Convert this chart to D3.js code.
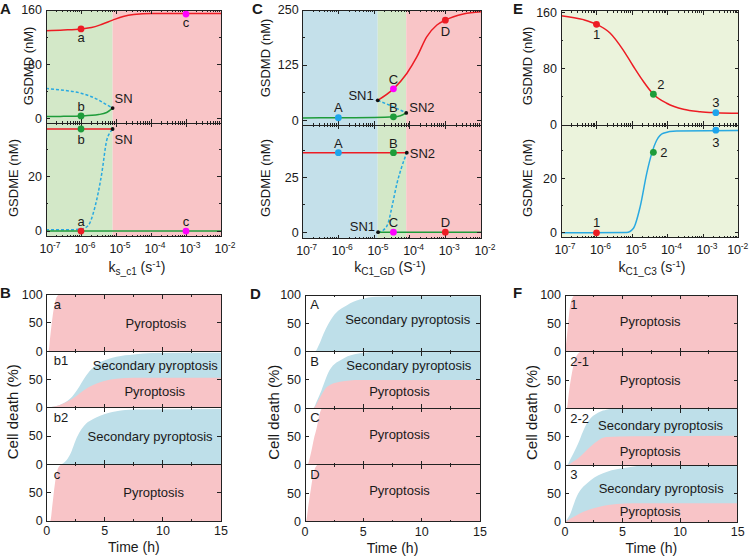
<!DOCTYPE html>
<html><head><meta charset="utf-8">
<script src="https://cdn.jsdelivr.net/npm/d3@7"></script>
<style>
body{margin:0;background:#fff}
svg{display:block}
text{font-family:Arial,"Liberation Sans",Helvetica,sans-serif;fill:#1a1a1a}
</style>
</head><body>
<svg id="c" width="750" height="556"></svg>
<script>
// ---------------- DATA ----------------
const logDecades = [-7, -6, -5, -4, -3, -2];
const timeTicks = [0, 5, 10, 15];
const timeMinor = [2.5, 7.5, 12.5];

// Panel A (x = k_s_c1)
const A_bounds = [1e-7, 8e-6, 1e-2];
const A_gsdmd_high = [[1e-7,129.5],[3.2e-7,130.5],[1e-6,132],[2e-6,134],[4e-6,139],[8e-6,145],[1.6e-5,150.5],[3.2e-5,153.5],[1e-4,155],[1e-3,155],[1e-2,155]];
const A_gsdmd_unst = [[1e-7,44],[2.5e-7,42],[1e-6,37],[3.2e-6,27],[5.4e-6,20],[8e-6,15]];
const A_gsdmd_low  = [[1e-7,2.5],[3.2e-7,2.8],[1e-6,3.4],[3.2e-6,5.5],[5.4e-6,8.5],[8e-6,15]];
const A_gsdme_high = [[1e-7,37.5],[8e-6,37.5]];
const A_gsdme_unst = [[1e-7,0.5],[5e-7,0.5],[1e-6,0.7],[1.6e-6,2],[2.5e-6,8.8],[3.9e-6,21],[5.4e-6,33.2],[7e-6,36.5],[8e-6,37.5]];
const A_gsdme_low  = [[1e-7,0],[1e-2,0]];
const A_pts_top = [["a",1e-6,132],["b",1e-6,3.4],["c",1e-3,154],["SN",8e-6,15]];
const A_pts_bot = [["b",1e-6,37.5],["a",1e-6,0],["c",1e-3,0],["SN",8e-6,37.5]];

// Panel C (x = k_C1_GD)
const C_bounds = [1e-7, 1.27e-5, 8e-5, 1e-2];
const C_gsdmd_low  = [[1e-7,5],[1e-6,5.5],[1e-5,6],[3.5e-5,7.5],[5.5e-5,10],[8e-5,16.5]];
const C_gsdmd_unst = [[1.27e-5,45],[2.9e-5,33],[8e-5,16.5]];
const C_gsdmd_high = [[1.27e-5,45],[3.5e-5,71],[8.3e-5,106],[1.6e-4,144],[3e-4,189],[5.8e-4,216],[1e-3,227],[3.2e-3,241],[1e-2,246]];
const C_gsdme_high = [[1e-7,36.5],[8.3e-5,36.5]];
const C_gsdme_unst = [[1.3e-5,0],[1.8e-5,0.9],[2.5e-5,4.3],[3.2e-5,11.8],[4.4e-5,22.4],[6e-5,30],[8.3e-5,36.5]];
const C_gsdme_low  = [[1.3e-5,0],[1e-2,0]];
const C_pts_top = [["A",1e-6,5.5],["B",3.5e-5,7.5],["C",3.5e-5,71],["D",1e-3,227],["SN1",1.27e-5,45],["SN2",8e-5,16.5]];
const C_pts_bot = [["A",1e-6,36.5],["B",3.5e-5,36.5],["C",3.5e-5,0],["D",1e-3,0],["SN1",1.3e-5,0],["SN2",8.3e-5,36.5]];

// Panel E (x = k_C1_C3)
const E_gsdmd = [[1e-7,155.7],[4.3e-7,150],[1e-6,143.3],[2.4e-6,131],[5.6e-6,107],[1.1e-5,83.3],[2.1e-5,61.9],[4e-5,43.8],[9.5e-5,31],[2.8e-4,22.4],[8.3e-4,19],[2.3e-3,17.6],[1e-2,16.7]];
const E_gsdme = [[1e-7,0],[7e-6,0.1],[1.1e-5,1.7],[1.7e-5,9.6],[2.6e-5,21.8],[3.6e-5,29.1],[5e-5,34],[7.6e-5,36.5],[1.8e-4,37.3],[1e-2,37.5]];
const E_pts_top = [["1",1e-6,143.3],["2",4e-5,43.8],["3",2.3e-3,17.6]];
const E_pts_bot = [["1",1e-6,0],["2",4e-5,29.5],["3",2.3e-3,37.6]];

// Cell death (time h, %)
const B_rows = ["a","b1","b2","c"];
const B_pyro = [
  [[0,0],[0.15,0],[0.3,25],[0.5,60],[0.7,85],[0.9,97],[1.1,100],[15,100]],
  [[0,0],[0.3,1],[1,4],[1.7,10],[2.5,20],[3.2,31],[4,40],[4.6,45],[5.3,49],[6,51],[7.5,53],[15,53]],
  null,
  [[0,0],[0.3,0],[0.5,30],[0.7,65],[0.9,88],[1.1,97],[1.3,100],[15,100]]
];
const B_total = [
  null,
  [[0,0],[0.3,1],[1,4],[1.7,11],[2.2,20],[2.6,31],[3.4,57],[4,71],[4.6,80],[5.3,86],[6,90],[7.5,94],[9,96.5],[15,97]],
  [[0,0],[1.2,0],[1.6,5],[2,17],[2.6,48],[3.4,72],[4,80],[4.6,86],[6,94],[7.5,97],[15,98]],
  null
];
const D_rows = ["A","B","C","D"];
const D_pyro = [
  null,
  [[0,0],[0.7,0],[1.2,16],[1.9,38],[3,47],[4.7,50],[15,50]],
  [[0,0],[0.25,2],[0.5,20],[0.75,45],[1,65],[1.25,90],[1.5,100],[15,100]],
  [[0,0],[0.1,2],[0.3,30],[0.5,57],[0.7,82],[0.9,96],[1.1,100],[15,100]]
];
const D_total = [
  [[0,0],[0.85,0],[1.2,12],[1.6,32],[2.4,62],[3.6,82],[4.7,92],[6.1,97],[8,98],[15,98]],
  [[0,0],[0.7,0],[1,12],[1.4,31],[2.1,67],[3.3,88],[4.7,97],[6.1,100],[15,100]],
  null, null
];
const F_rows = ["1","2-1","2-2","3"];
const F_pyro = [
  [[0,0],[0.1,15],[0.25,45],[0.4,75],[0.55,90],[0.7,97],[0.9,100],[15,100]],
  [[0,0],[0.15,0],[0.35,30],[0.6,62],[0.85,85],[1.15,97],[1.4,100],[15,100]],
  [[0,0],[0.15,0],[0.7,6],[1.3,15],[1.9,27],[2.5,38],[3.6,50],[5.9,51],[15,52]],
  [[0,0],[0.5,6],[1.6,18],[3,27],[4.5,31.5],[5.9,33],[15,33]]
];
const F_total = [
  null, null,
  [[0,0],[0.15,0],[0.5,12],[1,32],[1.9,74],[3,94],[3.6,98],[4.5,100],[15,100]],
  [[0,0],[0.4,12],[1,44],[2.2,73],[3.6,88],[5.4,96],[7.1,100],[15,100]]
];
// annotation anchors [text, t, %]
const B_notes = [[["Pyroptosis",9.4,41]],[["Secondary pyroptosis",9.35,67],["Pyroptosis",9.3,21]],[["Secondary pyroptosis",8.9,42]],[["Pyroptosis",9.2,42]]];
const D_notes = [[["Secondary pyroptosis",8.8,49]],[["Secondary pyroptosis",8.9,67],["Pyroptosis",8.1,21.5]],[["Pyroptosis",8.1,45]],[["Pyroptosis",8.1,46]]];
const F_notes = [[["Pyroptosis",7.4,45]],[["Pyroptosis",7.4,42]],[["Secondary pyroptosis",8.3,61.5],["Pyroptosis",7.4,15.5]],[["Secondary pyroptosis",8.35,51.5],["Pyroptosis",7.4,11]]];

// ---------------- STYLE ----------------
const RED="#ed1c24", GRN="#1e9c3a", LBL="#29a9e1", MAG="#ff00ff", PBL="#1ea4ec", BLK="#111";
const BG_GREEN="#d3e8c8", BG_PINK="#f9c5c7", BG_BLUE="#c4e0ea", BG_E="#ebf3dc";
const CD_PINK="#f8c4c7", CD_BLUE="#bedfe9";
const TICKFS = 12.5, TITLEFS = 14;

const svg = d3.select("#c");
let clipId = 0;

function tickLine(g, x1, y1, x2, y2) {
  g.append("line").attr("x1",x1).attr("y1",y1).attr("x2",x2).attr("y2",y2)
   .attr("stroke","#222").attr("stroke-width",1).attr("shape-rendering","crispEdges");
}
function frame(g, x0, x1, yt, yb) {
  g.append("rect").attr("x",x0).attr("y",yt).attr("width",x1-x0).attr("height",yb-yt)
   .attr("fill","none").attr("stroke","#222").attr("stroke-width",1).attr("shape-rendering","crispEdges");
}
function clip(x0, x1, yt, yb) {
  const id = "cl" + (clipId++);
  svg.append("clipPath").attr("id", id).append("rect").attr("x",x0).attr("y",yt).attr("width",x1-x0).attr("height",yb-yt);
  return "url(#" + id + ")";
}
function xTicks(g, x, yt, yb, major, minor) {
  major.forEach(v => { const p = x(v); tickLine(g,p,yb,p,yb-4); tickLine(g,p,yt,p,yt+4); });
  minor.forEach(v => { const p = x(v); tickLine(g,p,yb,p,yb-2); tickLine(g,p,yt,p,yt+2); });
}
function yTicks(g, y, x0, x1, major, minor) {
  major.forEach(v => { const p = y(v); tickLine(g,x0,p,x0+4,p); tickLine(g,x1,p,x1-4,p); });
  minor.forEach(v => { const p = y(v); tickLine(g,x0,p,x0+2,p); tickLine(g,x1,p,x1-2,p); });
}
function yLabels(g, y, x0, vals) {
  vals.forEach(v => g.append("text").attr("x",x0-4).attr("y",y(v)).attr("dy","0.35em")
    .attr("text-anchor","end").attr("font-size",TICKFS).text(v));
}
function yTitle(g, text, x, y, fs) {
  g.append("text").attr("transform",`translate(${x},${y}) rotate(-90)`).attr("text-anchor","middle")
   .attr("font-size",fs||TITLEFS).text(text);
}
function letter(t, x, y) {
  svg.append("text").attr("x",x).attr("y",y).attr("font-size",15).attr("font-weight","bold").text(t);
}
function kTitle(g, cx, y, sub, unit) {
  const t = g.append("text").attr("x",cx).attr("y",y).attr("text-anchor","middle").attr("font-size",TITLEFS);
  t.append("tspan").text("k");
  t.append("tspan").attr("font-size",10).attr("dy",3).text(sub);
  t.append("tspan").attr("dy",-3).text(" (" + unit);
  t.append("tspan").attr("font-size",9.5).attr("dy",-5).text("-1");
  t.append("tspan").attr("dy",5).text(")");
}

// ------------- bifurcation panel -------------
function bifPanel(o) {
  const g = svg.append("g");
  const x = d3.scaleLog().domain([1e-7, 1e-2]).range([o.x0, o.x1]);
  const yT = d3.scaleLinear().domain(o.topDomain).range([o.mid, o.top]);
  const yB = d3.scaleLinear().domain(o.botDomain).range([o.bot, o.mid]);
  for (let i = 0; i < o.bounds.length - 1; i++) {
    g.append("rect").attr("x", x(o.bounds[i])).attr("y", o.top)
     .attr("width", x(o.bounds[i+1]) - x(o.bounds[i])).attr("height", o.bot - o.top)
     .attr("fill", o.fills[i]);
  }
  const subs = [[yT, o.top, o.mid, o.topLines, o.topPts, o.topMajor, o.topMinor],
                [yB, o.mid, o.bot, o.botLines, o.botPts, o.botMajor, o.botMinor]];
  const majors = logDecades.map(e => Math.pow(10, e));
  const minors = [];
  logDecades.slice(0, -1).forEach(e => { for (let m = 2; m <= 9; m++) minors.push(m * Math.pow(10, e)); });
  subs.forEach(([y, yt, yb, lines, pts, maj, mn]) => {
    const cp = clip(o.x0, o.x1, yt, yb);
    const lg = g.append("g").attr("clip-path", cp);
    lines.forEach(L => {
      const line = d3.line().x(d => x(d[0])).y(d => y(d[1])).curve(d3.curveMonotoneX);
      lg.append("path").attr("d", line(L.data)).attr("fill","none").attr("stroke",L.color)
        .attr("stroke-width",1.5).attr("stroke-dasharray", L.dash ? "3,2" : null);
    });
    frame(g, o.x0, o.x1, yt, yb);
    xTicks(g, x, yt, yb, majors, minors);
    yTicks(g, y, o.x0, o.x1, maj, mn);
    pts.forEach(p => {
      const st = o.ptStyle[p.key];
      const cx = x(p.k), cy = y(p.v);
      g.append("circle").attr("cx",cx).attr("cy",cy).attr("r",st.r).attr("fill",st.color);
      if (p.lab) g.append("text").attr("x",cx+p.lab[0]).attr("y",cy+p.lab[1])
         .attr("text-anchor",p.lab[2]||"middle").attr("font-size",13).text(p.text);
    });
  });
  yLabels(g, yT, o.x0, o.topLabels);
  yLabels(g, yB, o.x0, o.botLabels);
  logDecades.forEach(e => {
    const lx = x(Math.pow(10, e)) - 6.5;
    const t = g.append("text").attr("x", lx).attr("y", o.bot + 16).attr("font-size",TICKFS)
      .attr("letter-spacing", -0.2);
    t.append("tspan").text("10");
    t.append("tspan").attr("font-size",8.5).attr("dy",-5).text(String(e));
    const bb = t.node().getBBox();
    if (bb.x + bb.width > 748.5) t.attr("x", lx - (bb.x + bb.width - 748.5));
  });
  return {g, x, yT, yB};
}

function pts(list, labOffsets) {
  return list.map((d, i) => ({key: d[0], text: d[0], k: d[1], v: d[2], lab: labOffsets[i]}));
}

// Panel A
{
  const o = {
    x0: 46, x1: 221, top: 10, mid: 123, bot: 236.5,
    topDomain: [-7, 160], botDomain: [-2, 39.7],
    topMajor: [0, 80, 160], topMinor: [40, 120], topLabels: [0, 80, 160],
    botMajor: [0, 20], botMinor: [10, 30], botLabels: [0, 20],
    bounds: A_bounds, fills: [BG_GREEN, BG_PINK],
    topLines: [{data: A_gsdmd_unst, color: LBL, dash: true}, {data: A_gsdmd_low, color: GRN}, {data: A_gsdmd_high, color: RED}],
    botLines: [{data: A_gsdme_unst, color: LBL, dash: true}, {data: A_gsdme_low, color: GRN}, {data: A_gsdme_high, color: RED}],
    ptStyle: {a:{color:RED,r:3.4}, b:{color:GRN,r:3.4}, c:{color:MAG,r:3.4}, SN:{color:BLK,r:1.9}},
    topPts: pts(A_pts_top, [[0,13],[0,-5],[0,13],[2,-5,"start"]]),
    botPts: pts(A_pts_bot, [[0,15],[0,-5],[0,-5],[2,15,"start"]])
  };
  const P = bifPanel(o);
  yTitle(P.g, "GSDMD (nM)", 33, 66, 13);
  yTitle(P.g, "GSDME (nM)", 18, 178, 13);
  kTitle(P.g, 137, 272, "s_c1", "s");
  letter("A", 0, 14);
}
// Panel C
{
  const o = {
    x0: 302.7, x1: 481, top: 10, mid: 125, bot: 238.5,
    topDomain: [-11, 250], botDomain: [-2.9, 49.2],
    topMajor: [0, 125, 250], topMinor: [62.5, 187.5], topLabels: [0, 125, 250],
    botMajor: [0, 25], botMinor: [12.5, 37.5], botLabels: [0, 25],
    bounds: C_bounds, fills: [BG_BLUE, BG_GREEN, BG_PINK],
    topLines: [{data: C_gsdmd_unst, color: LBL, dash: true}, {data: C_gsdmd_low, color: GRN}, {data: C_gsdmd_high, color: RED}],
    botLines: [{data: C_gsdme_unst, color: LBL, dash: true}, {data: C_gsdme_low, color: GRN}, {data: C_gsdme_high, color: RED}],
    ptStyle: {A:{color:PBL,r:3.4}, B:{color:GRN,r:3.4}, C:{color:MAG,r:3.4}, D:{color:RED,r:3.4}, SN1:{color:BLK,r:1.9}, SN2:{color:BLK,r:1.9}},
    topPts: pts(C_pts_top, [[0,-6],[0,-5],[0,-5],[0,16],[-4,0,"end"],[3,-1,"start"]]),
    botPts: pts(C_pts_bot, [[0,-5],[0,-5],[0,-5],[0,-5],[-3,-1,"end"],[3,5,"start"]])
  };
  const P = bifPanel(o);
  yTitle(P.g, "GSDMD (nM)", 270, 58, 13);
  yTitle(P.g, "GSDME (nM)", 270, 178, 13);
  kTitle(P.g, 390, 272, "C1_GD", "S");
  letter("C", 252, 14);
}
// Panel E
{
  const o = {
    x0: 561, x1: 738.5, top: 10.5, mid: 125, bot: 237.5,
    topDomain: [0, 163], botDomain: [-1.7, 39.5],
    topMajor: [0, 80, 160], topMinor: [40, 120], topLabels: [0, 80, 160],
    botMajor: [0, 20], botMinor: [10, 30], botLabels: [0, 20],
    bounds: [1e-7, 1e-2], fills: [BG_E],
    topLines: [{data: E_gsdmd, color: RED}],
    botLines: [{data: E_gsdme, color: LBL}],
    ptStyle: {"1":{color:RED,r:3.4}, "2":{color:GRN,r:3.4}, "3":{color:PBL,r:3.4}},
    topPts: pts(E_pts_top, [[0,15],[4,-5,"start"],[0,-6]]),
    botPts: pts(E_pts_bot, [[0,-6],[7,5,"start"],[0,17]])
  };
  const P = bifPanel(o);
  yTitle(P.g, "GSDMD (nM)", 532, 66, 13);
  yTitle(P.g, "GSDME (nM)", 532, 178, 13);
  kTitle(P.g, 652, 272, "C1_C3", "s");
  letter("E", 513, 14);
}

// ------------- cell death panel -------------
function deathPanel(o) {
  const g = svg.append("g");
  const x = d3.scaleLinear().domain([0, 15]).range([o.x0, o.x1]);
  const h = (o.bot - o.top) / 4;
  for (let i = 0; i < 4; i++) {
    const yt = o.top + i * h, yb = yt + h;
    const y = d3.scaleLinear().domain([0, 100]).range([yb, yt]);
    const cp = clip(o.x0, o.x1, yt, yb);
    const ag = g.append("g").attr("clip-path", cp);
    const area = d3.area().x(d => x(d[0])).y0(y(0)).y1(d => y(d[1])).curve(d3.curveMonotoneX);
    if (o.total[i]) ag.append("path").attr("d", area(o.total[i])).attr("fill", CD_BLUE);
    if (o.pyro[i]) ag.append("path").attr("d", area(o.pyro[i])).attr("fill", CD_PINK);
    frame(g, o.x0, o.x1, yt, yb);
    xTicks(g, x, yt, yb, timeTicks, timeMinor);
    yTicks(g, y, o.x0, o.x1, [50], []);
    yLabels(g, y, o.x0, i === 0 ? [0, 50, 100] : [0, 50]);
    g.append("text").attr("x", x(o.labelT)).attr("y", y(75)).attr("font-size", 13).text(o.rows[i]);
    o.notes[i].forEach(n => g.append("text").attr("x", x(n[1])).attr("y", y(n[2]))
      .attr("text-anchor","middle").attr("font-size",13).text(n[0]));
  }
  timeTicks.forEach(v => g.append("text").attr("x", x(v)).attr("y", o.bot + 14)
     .attr("text-anchor","middle").attr("font-size",TICKFS).text(v));
  g.append("text").attr("x", (o.x0 + o.x1) / 2).attr("y", o.bot + 31).attr("text-anchor","middle")
     .attr("font-size", TITLEFS).text("Time (h)");
  yTitle(g, "Cell death (%)", o.yTitleX, (o.top + o.bot) / 2 + 4, 15);
}
deathPanel({x0: 46.7, x1: 221, top: 294.5, bot: 521, rows: B_rows, pyro: B_pyro, total: B_total, notes: B_notes, labelT: 0.6, yTitleX: 18});
deathPanel({x0: 305, x1: 480, top: 295, bot: 521.5, rows: D_rows, pyro: D_pyro, total: D_total, notes: D_notes, labelT: 0.45, yTitleX: 279});
deathPanel({x0: 565, x1: 737.7, top: 295, bot: 522, rows: F_rows, pyro: F_pyro, total: F_total, notes: F_notes, labelT: 0.45, yTitleX: 537});
letter("B", 0, 298);
letter("D", 250, 299);
letter("F", 513, 298);
</script>
</body></html>
